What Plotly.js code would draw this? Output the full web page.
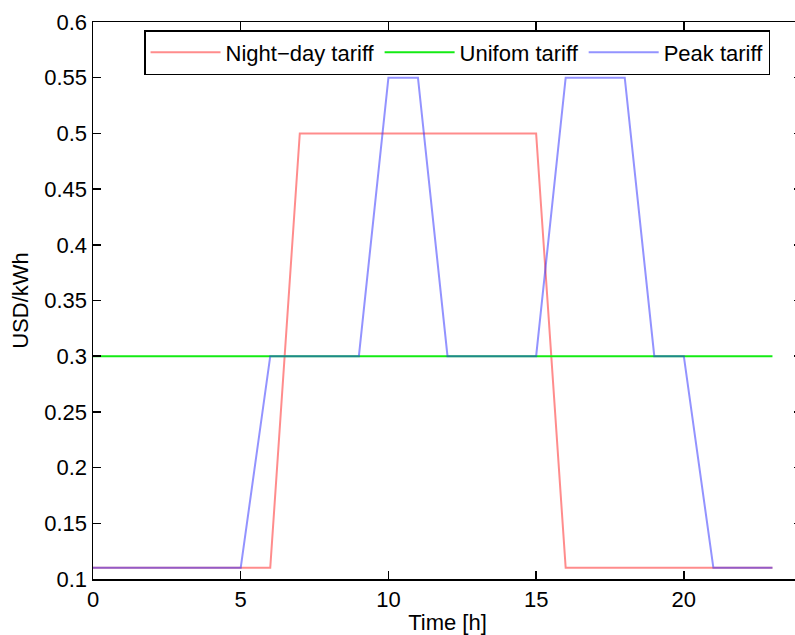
<!DOCTYPE html>
<html>
<head>
<meta charset="utf-8">
<script src="https://cdn.plot.ly/plotly-3.0.1.min.js"></script>
<style>html,body{margin:0;padding:0;overflow:hidden;background:#fff;}#chart{width:803px;height:635px;}</style>
</head>
<body>
<div id="chart"></div>
<script>
const hours = [0,1,2,3,4,5,6,7,8,9,10,11,12,13,14,15,16,17,18,19,20,21,22,23];
const nightDay = [0.11,0.11,0.11,0.11,0.11,0.11,0.11,0.5,0.5,0.5,0.5,0.5,0.5,0.5,0.5,0.5,0.11,0.11,0.11,0.11,0.11,0.11,0.11,0.11];
const uniform = [0.3,0.3,0.3,0.3,0.3,0.3,0.3,0.3,0.3,0.3,0.3,0.3,0.3,0.3,0.3,0.3,0.3,0.3,0.3,0.3,0.3,0.3,0.3,0.3];
const peak = [0.11,0.11,0.11,0.11,0.11,0.11,0.3,0.3,0.3,0.3,0.55,0.55,0.3,0.3,0.3,0.3,0.55,0.55,0.55,0.3,0.3,0.11,0.11,0.11];
const seriesNames = ['Night\u2212day tariff','Unifom tariff','Peak tariff'];

const font = {family:'Liberation Sans, Arial, Helvetica, sans-serif', size:22, color:'#000'};

const traces = [
  {x:hours, y:nightDay, name:seriesNames[0], mode:'lines', line:{color:'rgba(255,0,0,0.45)', width:2}},
  {x:hours, y:uniform, name:seriesNames[1], mode:'lines', line:{color:'rgb(20,235,20)', width:2}},
  {x:hours, y:peak, name:seriesNames[2], mode:'lines', line:{color:'rgba(40,40,255,0.5)', width:2}}
];

const axisCommon = {
  showline:true, linecolor:'#000', linewidth:1.5, mirror:'ticks',
  ticks:'inside', ticklen:8, tickwidth:1.5, tickcolor:'#000',
  showgrid:false, zeroline:false, tickfont:font
};

const layout = {
  width:803, height:635,
  margin:{l:93, r:1, t:22, b:56},
  paper_bgcolor:'#fff', plot_bgcolor:'#fff',
  font:font,
  showlegend:true,
  legend:{orientation:'h', x:0.072, y:0.9856, xanchor:'left', yanchor:'top',
          bgcolor:'#fff', bordercolor:'#000', borderwidth:1.5, font:font, itemwidth:70},
  xaxis:Object.assign({}, axisCommon, {range:[0,24], dtick:5, tick0:0,
          title:{text:'Time [h]', font:font, standoff:9}}),
  yaxis:Object.assign({}, axisCommon, {range:[0.1,0.6], dtick:0.05, tick0:0.1,
          title:{text:'USD/kWh', font:font, standoff:9}})
};

Plotly.newPlot('chart', traces, layout, {displayModeBar:false, staticPlot:true});
</script>
</body>
</html>
